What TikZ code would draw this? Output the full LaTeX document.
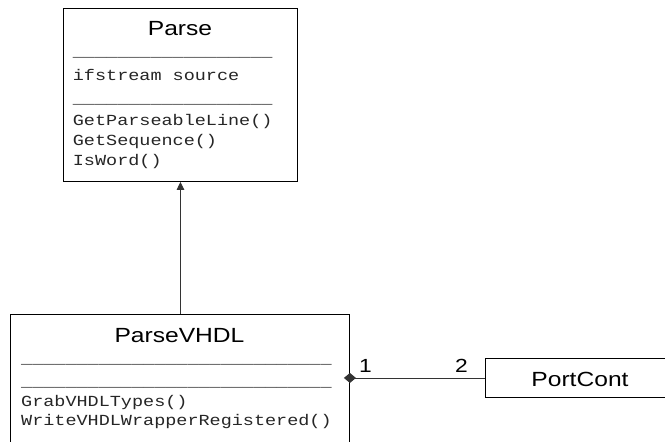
\documentclass[tikz,border=0pt]{standalone}
\usepackage{fontspec}
\usetikzlibrary{arrows.meta}
\newfontfamily\titlef{Liberation Sans}[FakeStretch=1.2]
\newfontfamily\monof{Liberation Mono}[FakeStretch=1.2]
\begin{document}
\begin{tikzpicture}[x=1bp,y=-1bp,
  classbox/.style={draw=black,line width=0.9bp,fill=white,inner sep=0pt,anchor=north west},
  titletext/.style={inner sep=0pt,anchor=base,font=\titlef\fontsize{20.5bp}{24bp}\selectfont},
  membertext/.style={inner sep=0pt,anchor=base west,text=black!85,font=\monof\fontsize{15.4bp}{19bp}\selectfont},
  multtext/.style={inner sep=0pt,anchor=base west,font=\titlef\fontsize{19bp}{22bp}\selectfont},
  conn/.style={draw=black!80,line width=0.9bp}]
\useasboundingbox (0,0) rectangle (665,442);
\clip (0,0) rectangle (665,442);
% boxes
\node[classbox,minimum width=234bp,minimum height=173bp] (parse) at (63,8) {};
\node[classbox,minimum width=339bp,minimum height=150bp] (pvhdl) at (10,314) {};
\node[classbox,minimum width=190bp,minimum height=39bp] (portcont) at (485,358) {};
% Parse texts
\node[titletext] (parsetitle) at (180,35.7) {Parse};
\node[membertext] (psep1) at (72.7,57) {\_\_\_\_\_\_\_\_\_\_\_\_\_\_\_\_\_\_};
\node[membertext] (pattr) at (72.7,80.5) {ifstream source};
\node[membertext] (psep2) at (72.7,104) {\_\_\_\_\_\_\_\_\_\_\_\_\_\_\_\_\_\_};
\node[membertext] (pm1) at (72.7,126) {GetParseableLine()};
\node[membertext] (pm2) at (72.7,146) {GetSequence()};
\node[membertext] (pm3) at (72.7,166) {IsWord()};
% ParseVHDL texts
\node[titletext] (vtitle) at (179.5,342) {ParseVHDL};
\node[membertext] (vsep1) at (21,363) {\_\_\_\_\_\_\_\_\_\_\_\_\_\_\_\_\_\_\_\_\_\_\_\_\_\_\_\_};
\node[membertext] (vsep2) at (21,386) {\_\_\_\_\_\_\_\_\_\_\_\_\_\_\_\_\_\_\_\_\_\_\_\_\_\_\_\_};
\node[membertext] (vm1) at (21,406.7) {GrabVHDLTypes()};
\node[membertext] (vm2) at (21,425.7) {WriteVHDLWrapperRegistered()};
% PortCont text
\node[titletext] (pctitle) at (580,386.7) {PortCont};
% multiplicities
\node[multtext] (m1) at (359,372) {1};
\node[multtext] (m2) at (455,372) {2};
% connectors
\draw[conn,-{Triangle[length=8bp,width=7.5bp]}] (parse.south |- pvhdl.north) -- (parse.south);
\draw[conn,-{Diamond[length=12bp,width=10bp]},shorten >=-6bp] (portcont.west) -- (portcont.west -| pvhdl.east);
\end{tikzpicture}
\end{document}
